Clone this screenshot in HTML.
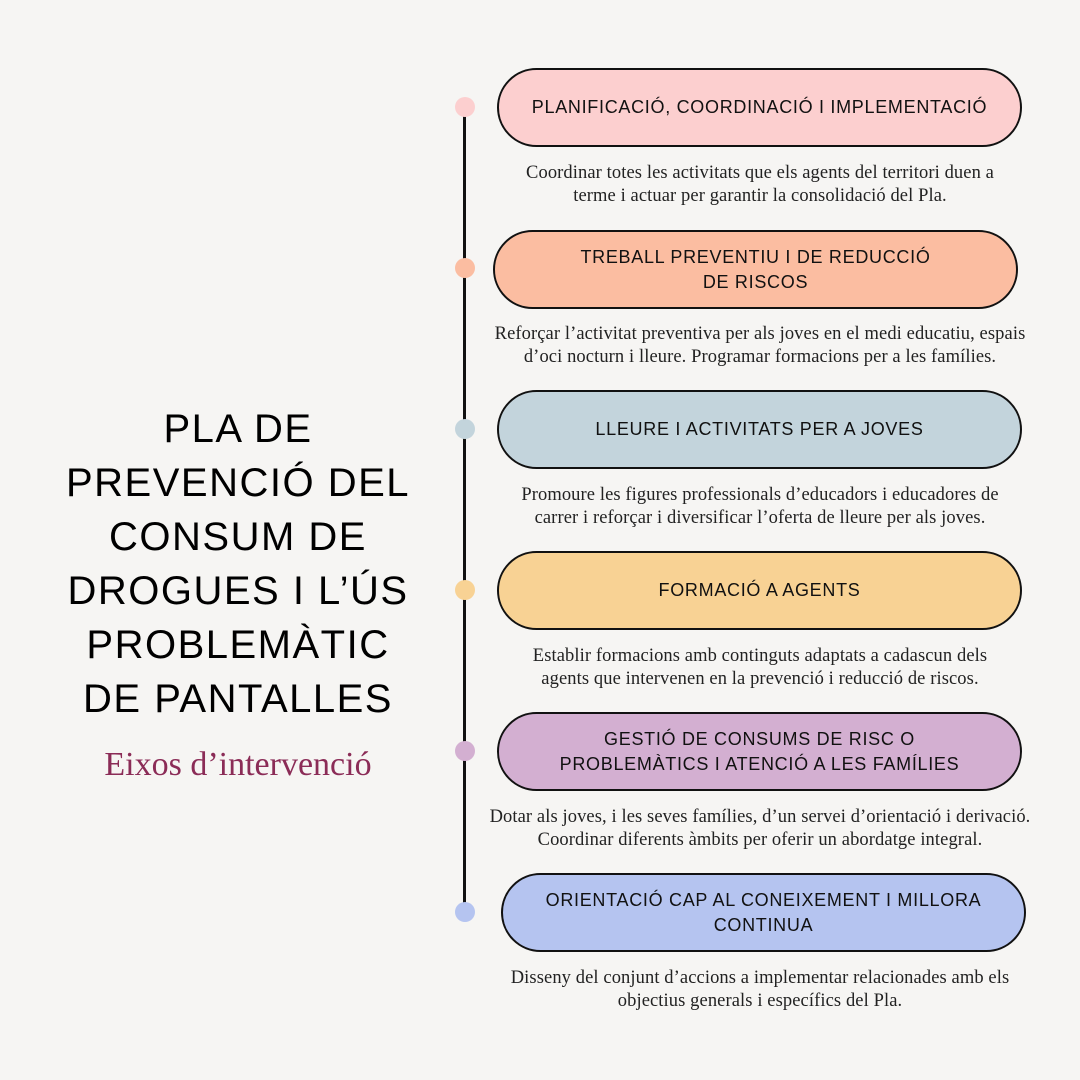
<!DOCTYPE html>
<html><head><meta charset="utf-8"><style>
body{margin:0;width:1080px;height:1080px;background:#f6f5f3;position:relative;overflow:hidden;font-family:"Liberation Sans",sans-serif;}
.t{position:absolute;left:40px;width:396px;top:402px;text-align:center;font-size:40px;line-height:54px;color:#000;letter-spacing:1.5px;}
.s{position:absolute;left:40px;width:396px;top:746px;text-align:center;font-family:"Liberation Serif",serif;font-size:34px;color:#8b2c57;}
.line{position:absolute;left:463px;top:110px;width:3px;height:802px;background:#111;}
.dot{position:absolute;left:455px;width:20px;height:20px;border-radius:50%;}
.p{position:absolute;width:521px;height:75px;border:2px solid #111;border-radius:40px;display:flex;align-items:center;justify-content:center;text-align:center;font-size:18px;line-height:25px;letter-spacing:0.7px;color:#111;}
.d{position:absolute;left:470px;width:580px;text-align:center;font-family:"Liberation Serif",serif;font-size:18.5px;line-height:23px;color:#222;letter-spacing:0.1px;}
</style></head><body>
<div class="t">PLA DE<br>PREVENCIÓ DEL<br>CONSUM DE<br>DROGUES I L’ÚS<br>PROBLEMÀTIC<br>DE PANTALLES</div>
<div class="s">Eixos d’intervenció</div>
<div class="line"></div>
<div class="dot" style="top:97px;background:#fccfcf"></div>
<div class="dot" style="top:258px;background:#fbbda1"></div>
<div class="dot" style="top:419px;background:#c3d4dc"></div>
<div class="dot" style="top:580px;background:#f8d294"></div>
<div class="dot" style="top:741px;background:#d3afd1"></div>
<div class="dot" style="top:902px;background:#b5c4f0"></div>

<div class="p" style="left:497px;top:68px;background:#fccfcf">PLANIFICACIÓ, COORDINACIÓ I IMPLEMENTACIÓ</div>
<div class="d" style="top:162px">Coordinar totes les activitats que els agents del territori duen a<br>terme i actuar per garantir la consolidació del Pla.</div>
<div class="p" style="left:493px;top:230px;background:#fbbda1">TREBALL PREVENTIU I DE REDUCCIÓ<br>DE RISCOS</div>
<div class="d" style="top:323px">Reforçar l’activitat preventiva per als joves en el medi educatiu, espais<br>d’oci nocturn i lleure. Programar formacions per a les famílies.</div>
<div class="p" style="left:497px;top:390px;background:#c3d4dc">LLEURE I ACTIVITATS PER A JOVES</div>
<div class="d" style="top:484px">Promoure les figures professionals d’educadors i educadores de<br>carrer i reforçar i diversificar l’oferta de lleure per als joves.</div>
<div class="p" style="left:497px;top:551px;background:#f8d294">FORMACIÓ A AGENTS</div>
<div class="d" style="top:645px">Establir formacions amb continguts adaptats a cadascun dels<br>agents que intervenen en la prevenció i reducció de riscos.</div>
<div class="p" style="left:497px;top:712px;background:#d3afd1">GESTIÓ DE CONSUMS DE RISC O<br>PROBLEMÀTICS I ATENCIÓ A LES FAMÍLIES</div>
<div class="d" style="top:806px">Dotar als joves, i les seves famílies, d’un servei d’orientació i derivació.<br>Coordinar diferents àmbits per oferir un abordatge integral.</div>
<div class="p" style="left:501px;top:873px;background:#b5c4f0">ORIENTACIÓ CAP AL CONEIXEMENT I MILLORA<br>CONTINUA</div>
<div class="d" style="top:967px">Disseny del conjunt d’accions a implementar relacionades amb els<br>objectius generals i específics del Pla.</div>
</body></html>
